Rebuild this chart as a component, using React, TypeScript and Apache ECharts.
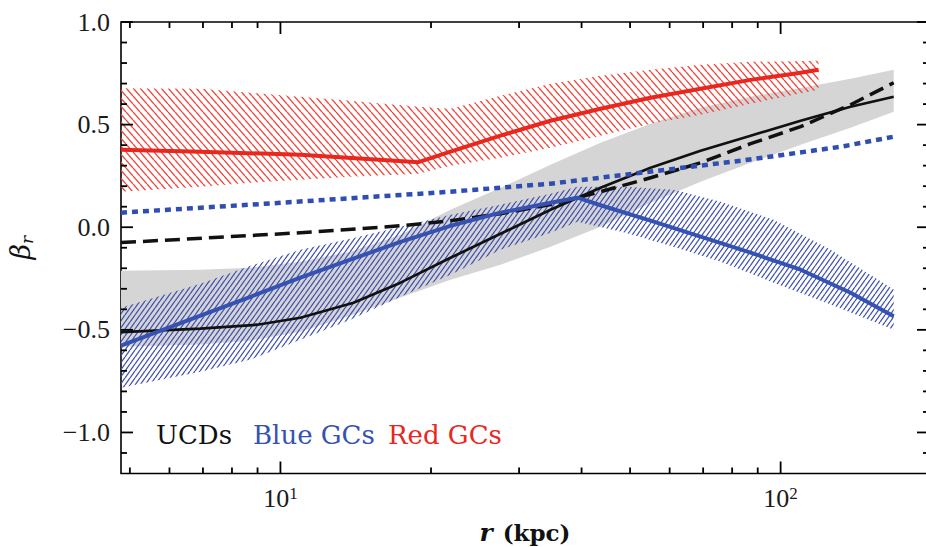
import React, { useEffect, useRef } from 'react';
import * as echarts from 'echarts';

// ---- axis ranges / ticks ----
const X_MIN = 4.8;
const X_MAX = 198;
const Y_MIN = -1.2;
const Y_MAX = 1.0;
const xMajorTicks = [10, 100];
const xMinorTicks = [5, 6, 7, 8, 9, 20, 30, 40, 50, 60, 70, 80, 90];
const yMajorTicks = [-1.0, -0.5, 0.0, 0.5, 1.0];
const yMinorTicks = [-1.1, -0.9, -0.8, -0.7, -0.6, -0.4, -0.3, -0.2, -0.1, 0.1, 0.2, 0.3, 0.4, 0.6, 0.7, 0.8, 0.9];

// ---- legend labels ----
const legendLabels = ['UCDs', 'Blue GCs', 'Red GCs'];

// ---- UCDs (black) ----
const grayR = [4.8, 6.92, 8.71, 10.96, 13.8, 17.38, 21.88, 27.54, 34.67, 43.65, 54.95, 69.18, 87.1, 109.65, 138.0, 168.3];
const grayHi = [-0.212, -0.207, -0.197, -0.168, -0.119, -0.037, 0.085, 0.192, 0.304, 0.412, 0.504, 0.582, 0.636, 0.679, 0.723, 0.767];
const grayLo = [-0.582, -0.572, -0.553, -0.509, -0.431, -0.343, -0.256, -0.183, -0.095, 0.002, 0.119, 0.222, 0.314, 0.402, 0.485, 0.563];
const ucdR = [4.8, 6.92, 8.99, 10.96, 14.0, 17.38, 21.88, 27.54, 34.67, 43.65, 54.95, 69.18, 87.1, 109.65, 138.0, 168.3];
const ucdBeta = [-0.511, -0.494, -0.475, -0.441, -0.368, -0.27, -0.149, -0.032, 0.085, 0.192, 0.29, 0.373, 0.446, 0.519, 0.587, 0.636];
const ucdDashR = [4.8, 10.96, 17.38, 21.88, 27.54, 34.67, 43.65, 54.95, 69.18, 87.1, 109.65, 138.0, 168.3];
const ucdDashBeta = [-0.075, -0.027, 0.007, 0.032, 0.066, 0.11, 0.173, 0.241, 0.314, 0.407, 0.49, 0.597, 0.704];

// ---- Blue GCs ----
const blueBandR = [4.8, 6.92, 8.71, 10.96, 13.8, 17.38, 21.88, 27.54, 34.67, 39.26, 48.98, 61.09, 75.86, 96.83, 125.9, 168.3];
const blueHi = [-0.392, -0.275, -0.188, -0.11, -0.056, 0.002, 0.061, 0.11, 0.163, 0.197, 0.197, 0.183, 0.124, 0.037, -0.11, -0.304];
const blueLo = [-0.782, -0.704, -0.645, -0.548, -0.451, -0.339, -0.231, -0.11, -0.027, 0.027, -0.027, -0.095, -0.168, -0.27, -0.377, -0.499];
const blueR = [4.8, 6.92, 8.71, 10.96, 13.8, 17.38, 21.88, 27.54, 34.67, 39.26, 43.65, 54.95, 69.18, 87.1, 109.65, 138.0, 168.3];
const blueBeta = [-0.577, -0.431, -0.339, -0.246, -0.158, -0.071, 0.007, 0.071, 0.119, 0.144, 0.107, 0.032, -0.046, -0.124, -0.207, -0.319, -0.434];
const blueDotR = [4.8, 10, 21.88, 34.67, 52.5, 83.2, 131.8, 168.3];
const blueDotBeta = [0.071, 0.119, 0.173, 0.212, 0.265, 0.324, 0.392, 0.441];

// ---- Red GCs ----
const redBandR = [4.8, 6.92, 8.71, 10.96, 13.8, 18.88, 21.88, 27.54, 34.67, 43.65, 54.95, 69.18, 87.1, 119.1];
const redHi = [0.677, 0.675, 0.655, 0.636, 0.616, 0.587, 0.577, 0.641, 0.699, 0.738, 0.767, 0.792, 0.806, 0.811];
const redLo = [0.173, 0.197, 0.217, 0.231, 0.246, 0.261, 0.3, 0.339, 0.387, 0.446, 0.504, 0.548, 0.602, 0.67];
const redR = [4.8, 6.92, 10.96, 18.88, 21.88, 27.54, 34.67, 43.65, 54.95, 69.18, 87.1, 109.65, 119.1];
const redBeta = [0.377, 0.368, 0.353, 0.317, 0.368, 0.446, 0.519, 0.577, 0.631, 0.675, 0.718, 0.753, 0.767];

const BLACK = '#111111';
const BLUE = '#3552b3';
const RED = '#e8271f';
const SERIF = '"Liberation Serif", "DejaVu Serif", serif';
const SERIF2 = '"DejaVu Serif", "Liberation Serif", serif';

function hatch(color: string, w: number, h: number, forward: boolean, lw: number) {
  const c = document.createElement('canvas');
  c.width = w;
  c.height = h;
  const ctx = c.getContext('2d')!;
  ctx.strokeStyle = color;
  ctx.lineWidth = lw;
  for (let k = -1; k <= 1; k++) {
    ctx.beginPath();
    if (forward) {
      ctx.moveTo(k * w, h);
      ctx.lineTo(k * w + w, 0);
    } else {
      ctx.moveTo(k * w, 0);
      ctx.lineTo(k * w + w, h);
    }
    ctx.stroke();
  }
  return { image: c.toDataURL(), repeat: 'repeat', imageWidth: w, imageHeight: h } as any;
}

function band(name: string, rs: number[], lo: number[], hi: number[], fill: any, z: number) {
  return {
    type: 'custom',
    name,
    coordinateSystem: 'cartesian2d',
    silent: true,
    z,
    data: rs.map((r, i) => [r, lo[i], hi[i]]),
    encode: { x: 0, y: [1, 2] },
    renderItem: (params: any, api: any) => {
      if (params.dataIndex !== 0) return null;
      const pts: number[][] = [];
      for (let i = 0; i < rs.length; i++) pts.push(api.coord([rs[i], hi[i]]));
      for (let i = rs.length - 1; i >= 0; i--) pts.push(api.coord([rs[i], lo[i]]));
      return { type: 'polygon', shape: { points: pts }, style: { fill, stroke: null } };
    },
  };
}

function line(name: string, rs: number[], vals: number[], color: string, width: number, type: any, z: number) {
  return {
    type: 'line',
    name,
    data: rs.map((r, i) => [r, vals[i]]),
    showSymbol: false,
    symbol: 'none',
    smooth: false,
    silent: true,
    z,
    lineStyle: { color, width, type, cap: 'butt', join: 'round' },
  };
}

// tick marks on all four sides, drawn through the axes' scales
function tickSeries(vals: number[], len: number, horizontal: boolean) {
  return {
    type: 'custom',
    coordinateSystem: 'cartesian2d',
    silent: true,
    z: 10,
    clip: false,
    data: vals.map((v) => (horizontal ? [v, 0] : [10, v])),
    encode: { x: 0, y: 1 },
    renderItem: (params: any, api: any) => {
      const v = api.value(horizontal ? 0 : 1);
      const st = { stroke: '#000', lineWidth: 1.8 };
      if (horizontal) {
        const b = api.coord([v, Y_MIN]);
        const t = api.coord([v, Y_MAX]);
        return {
          type: 'group',
          children: [
            { type: 'line', shape: { x1: b[0], y1: b[1], x2: b[0], y2: b[1] - len }, style: st },
            { type: 'line', shape: { x1: t[0], y1: t[1], x2: t[0], y2: t[1] + len }, style: st },
          ],
        };
      }
      const l = api.coord([X_MIN, v]);
      const r = api.coord([X_MAX, v]);
      return {
        type: 'group',
        children: [
          { type: 'line', shape: { x1: l[0], y1: l[1], x2: l[0] + len, y2: l[1] }, style: st },
          { type: 'line', shape: { x1: r[0], y1: r[1], x2: r[0] - len, y2: r[1] }, style: st },
        ],
      };
    },
  };
}

export default function App() {
  const ref = useRef<HTMLDivElement>(null);
  useEffect(() => {
    const chart = echarts.init(ref.current!, null, { renderer: 'svg' });
    const redHatch = hatch('#ee4a40', 7, 8, false, 1.4);
    const blueHatch = hatch('#4050b0', 5, 7, true, 1.3);
    const legendColors = [BLACK, BLUE, RED];
    const legendX = [156, 253, 388];
    chart.setOption({
      animation: false,
      backgroundColor: '#ffffff',
      grid: {
        left: 121,
        top: 22,
        right: -3,
        bottom: 73.5,
        containLabel: false,
        outerBoundsMode: 'none',
        show: true,
        borderColor: '#000',
        borderWidth: 1.6,
        backgroundColor: 'transparent',
      },
      xAxis: {
        type: 'log',
        logBase: 10,
        min: X_MIN,
        max: X_MAX,
        axisLine: { show: false },
        axisTick: { show: false },
        splitLine: { show: false },
        minorTick: { show: false },
        axisLabel: {
          margin: 11,
          showMinLabel: false,
          showMaxLabel: false,
          formatter: (v: number) => {
            const e = Math.log10(v);
            const k = Math.round(e);
            if (Math.abs(e - k) > 1e-6) return '';
            if (!xMajorTicks.some((t) => Math.abs(t - v) < 1e-6 * t)) return '';
            return `{b|10}{s|${k}}`;
          },
          rich: {
            b: { fontSize: 26, fontFamily: SERIF, color: '#1a1a1a', lineHeight: 28 },
            s: { fontSize: 17, fontFamily: SERIF, color: '#1a1a1a', verticalAlign: 'top', lineHeight: 17 },
          },
        },
        name: '{i|r}{b|(kpc)}',
        nameLocation: 'middle',
        nameGap: 47,
        nameTextStyle: {
          lineHeight: 24,
          rich: {
            i: { fontSize: 25, lineHeight: 24, fontFamily: SERIF2, fontWeight: 'bold', fontStyle: 'italic', color: '#111', padding: [0, 10, 0, 0] },
            b: { fontSize: 23, lineHeight: 24, fontFamily: SERIF2, fontWeight: 'bold', color: '#111' },
          },
        },
      },
      yAxis: {
        type: 'value',
        min: Y_MIN,
        max: Y_MAX,
        interval: 0.1,
        axisLine: { show: false },
        axisTick: { show: false },
        splitLine: { show: false },
        axisLabel: {
          margin: 11,
          fontSize: 26,
          fontFamily: SERIF,
          color: '#1a1a1a',
          formatter: (v: number) => {
            const k = Math.round(v * 10);
            if (k % 5 !== 0) return '';
            if (!yMajorTicks.some((t) => Math.abs(t * 10 - k) < 1e-6)) return '';
            const s = Math.abs(k / 10).toFixed(1);
            return k < 0 ? '\u2212' + s : s;
          },
        },
        name: '{b|\u03b2}{s|r}',
        nameLocation: 'middle',
        nameGap: 86,
        nameTextStyle: {
          rich: {
            b: { fontSize: 27, fontFamily: SERIF2, fontStyle: 'italic', color: '#111', lineHeight: 30 },
            s: { fontSize: 17, fontFamily: SERIF2, fontStyle: 'italic', color: '#111', verticalAlign: 'bottom', lineHeight: 17 },
          },
        },
      },
      graphic: legendLabels.map((t, i) => ({
        type: 'text',
        x: legendX[i],
        y: 435,
        silent: true,
        z: 20,
        style: {
          text: t,
          fill: legendColors[i],
          font: `26px ${SERIF2}`,
          textVerticalAlign: 'middle',
        },
      })),
      series: [
        band('UCD range', grayR, grayLo, grayHi, '#d5d5d5', 1),
        band('Red GC range', redBandR, redLo, redHi, redHatch, 2),
        band('Blue GC range', blueBandR, blueLo, blueHi, blueHatch, 2),
        line('UCDs', ucdR, ucdBeta, BLACK, 2.7, 'solid', 3),
        line('UCDs model', ucdDashR, ucdDashBeta, BLACK, 3.5, [15, 7], 3),
        line('Blue GCs model', blueDotR, blueDotBeta, '#2f4db2', 4.5, [6, 5], 3),
        line('Blue GCs', blueR, blueBeta, BLUE, 4, 'solid', 4),
        line('Red GCs', redR, redBeta, RED, 4, 'solid', 4),
        tickSeries(xMajorTicks, 12, true),
        tickSeries(xMinorTicks, 6, true),
        tickSeries(yMajorTicks, 12, false),
        tickSeries(yMinorTicks, 6, false),
      ],
    });
    return () => chart.dispose();
  }, []);
  return (
    <div
      ref={ref}
      style={{ position: 'fixed', left: 0, top: 0, width: 926, height: 547, background: '#fff' }}
    />
  );
}
